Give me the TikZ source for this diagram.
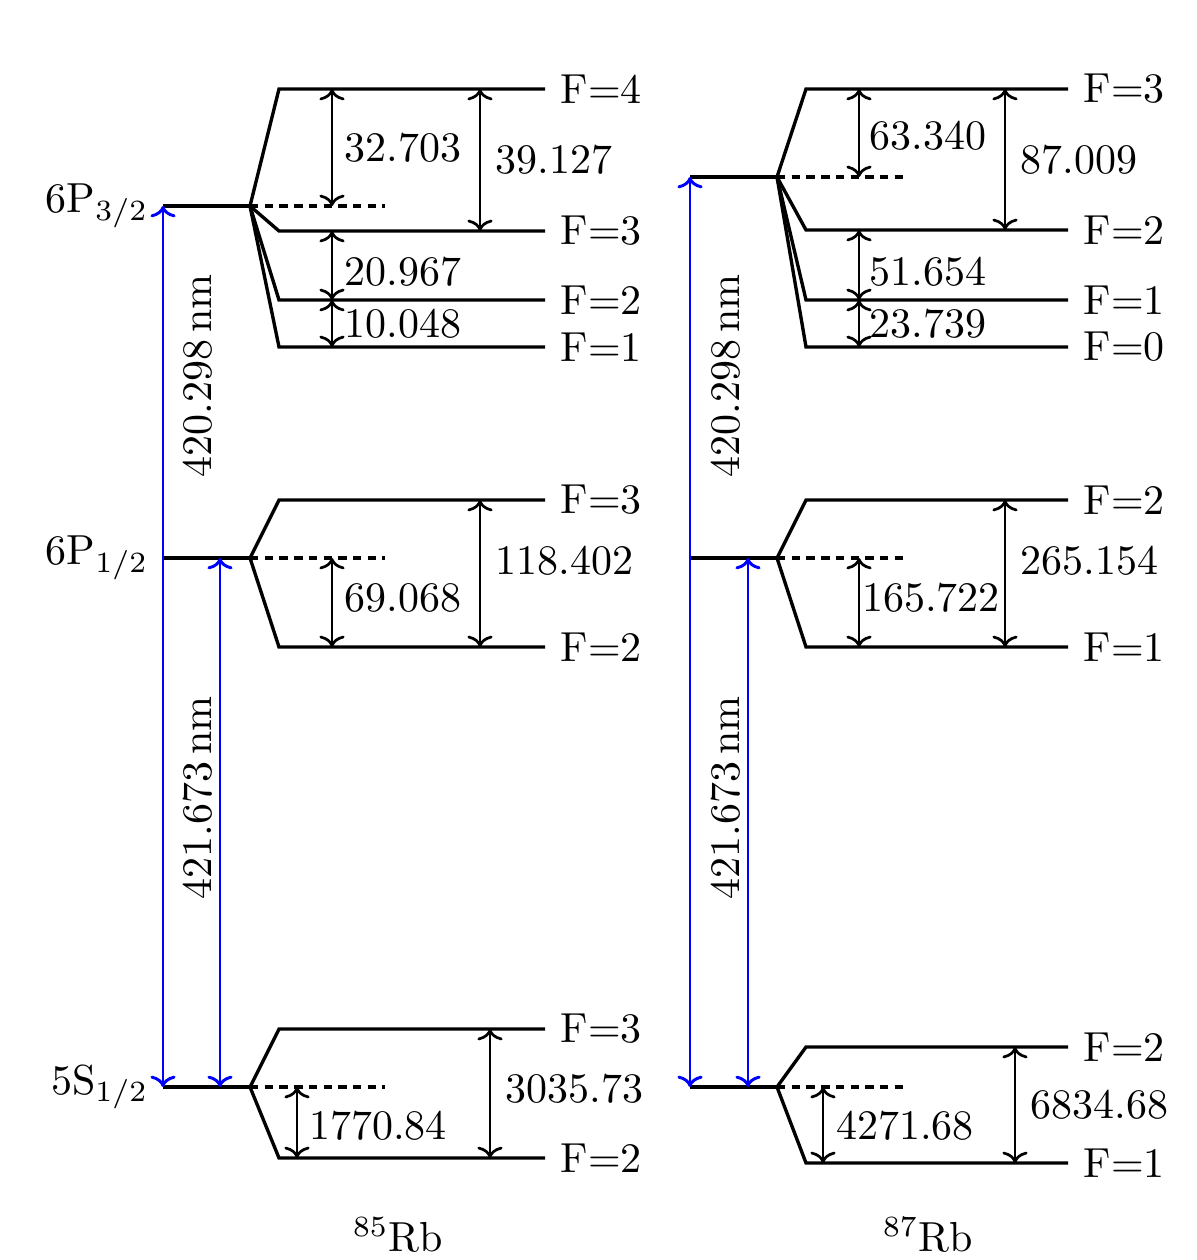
\documentclass[tikz,border=0pt]{standalone}
\usepackage{amsmath,amsfonts}
\usetikzlibrary{arrows.meta}

\tikzset{
	lvl/.style={thick},
	hfs/.style={line width=0.65pt,{To[length=2.7pt,width=6pt]}-{To[length=2.7pt,width=6pt]}},
	laser/.style={line width=0.7pt,blue,{To[length=2.7pt,width=6pt]}-{To[length=2.7pt,width=6pt]}},
	ctr/.style={thick,dash pattern=on 2pt off 1.5pt},
}

\begin{document}
\begin{tikzpicture}[x=0.2381pt,y=-0.2381pt]
\useasboundingbox (0,0) rectangle (1196,1260);
%
% 85Rb
%
	\coordinate (aS) at (163,1087);
	\coordinate (aP1) at (163,558);
	\coordinate (aP3) at (163,206);
	\node[left] (aSname) at (aS) {5S$_{1/2}$};
	\node[left] (aP1name) at (aP1) {6P$_{1/2}$};
	\node[left] (aP3name) at (aP3) {6P$_{3/2}$};
	\draw[lvl] (aS) -- (250,1087) coordinate (aSk);
	\draw[lvl] (aP1) -- (250,558) coordinate (aP1k);
	\draw[lvl] (aP3) -- (250,206) coordinate (aP3k);
	\draw[ctr] (aSk) -- (385,1087);
	\draw[ctr] (aP1k) -- (385,558);
	\draw[ctr] (aP3k) -- (385,206);
	% hyperfine levels
	\draw[lvl] (aP3k) -- (279,89) -- (545,89) node[right] (aP3F4) {F=4};
	\draw[lvl] (aP3k) -- (279,231) -- (545,231) node[right] (aP3F3) {F=3};
	\draw[lvl] (aP3k) -- (279,300) -- (545,300) node[right] (aP3F2) {F=2};
	\draw[lvl] (aP3k) -- (279,347) -- (545,347) node[right] (aP3F1) {F=1};
	\draw[lvl] (aP1k) -- (279,500) -- (545,500) node[right] (aP1F3) {F=3};
	\draw[lvl] (aP1k) -- (279,647) -- (545,647) node[right] (aP1F2) {F=2};
	\draw[lvl] (aSk) -- (279,1029) -- (545,1029) node[right] (aSF3) {F=3};
	\draw[lvl] (aSk) -- (279,1158) -- (545,1158) node[right] (aSF2) {F=2};
	% splittings
	\coordinate (ain) at (332,0);
	\coordinate (aout) at (480,0);
	\coordinate (asin) at (297,0);
	\coordinate (asout) at (490,0);
	\draw[hfs] (ain |- aP3F4) -- (ain |- aP3k);
	\draw[hfs] (ain |- aP3F3) -- (ain |- aP3F2);
	\draw[hfs] (ain |- aP3F2) -- (ain |- aP3F1);
	\draw[hfs] (aout |- aP3F4) -- node[right] (aP3d) {39.127} (aout |- aP3F3);
	\draw[hfs] (ain |- aP1k) -- (ain |- aP1F2);
	\draw[hfs] (aout |- aP1F3) -- node[right,pos=0.41] (aP1d) {118.402} (aout |- aP1F2);
	\draw[hfs] (asin |- aSk) -- (asin |- aSF2);
	\draw[hfs] (asout |- aSF3) -- node[right,pos=0.465] (aSd) {3035.73} (asout |- aSF2);
	\node (aP3d1) at (403,148) {32.703};
	\node (aP3d2) at (403,272) {20.967};
	\node (aP3d3) at (403,324) {10.048};
	\node (aP1d1) at (403,598) {69.068};
	\node (aSd1) at (378,1126) {1770.84};
	% transitions
	\coordinate (ablue) at (220,0);
	\draw[laser] (aS) -- (aP3);
	\draw[laser] (ablue |- aS) -- (ablue |- aP1);
	\node[rotate=90] (aL3) at (198,376) {420.298\,nm};
	\node[rotate=90] (aL1) at (198,798) {421.673\,nm};
	\node (aRb) at (398,1235) {$^{85}$Rb};
%
% 87Rb
%
	\coordinate (bS) at (690,1087);
	\coordinate (bP1) at (690,558);
	\coordinate (bP3) at (690,177);
	\draw[lvl] (bS) -- (777,1087) coordinate (bSk);
	\draw[lvl] (bP1) -- (777,558) coordinate (bP1k);
	\draw[lvl] (bP3) -- (777,177) coordinate (bP3k);
	\draw[ctr] (bSk) -- (909,1087);
	\draw[ctr] (bP1k) -- (909,558);
	\draw[ctr] (bP3k) -- (909,177);
	% hyperfine levels
	\draw[lvl] (bP3k) -- (806,89) -- (1068,89) node[right] (bP3F3) {F=3};
	\draw[lvl] (bP3k) -- (806,230) -- (1068,230) node[right] (bP3F2) {F=2};
	\draw[lvl] (bP3k) -- (806,300) -- (1068,300) node[right] (bP3F1) {F=1};
	\draw[lvl] (bP3k) -- (806,347) -- (1068,347) node[right] (bP3F0) {F=0};
	\draw[lvl] (bP1k) -- (806,500) -- (1068,500) node[right] (bP1F2) {F=2};
	\draw[lvl] (bP1k) -- (806,647) -- (1068,647) node[right] (bP1F1) {F=1};
	\draw[lvl] (bSk) -- (806,1047) -- (1068,1047) node[right] (bSF2) {F=2};
	\draw[lvl] (bSk) -- (806,1163) -- (1068,1163) node[right] (bSF1) {F=1};
	% splittings
	\coordinate (bin) at (859,0);
	\coordinate (bout) at (1005,0);
	\coordinate (bsin) at (823,0);
	\coordinate (bsout) at (1015,0);
	\draw[hfs] (bin |- bP3F3) -- (bin |- bP3k);
	\draw[hfs] (bin |- bP3F2) -- (bin |- bP3F1);
	\draw[hfs] (bin |- bP3F1) -- (bin |- bP3F0);
	\draw[hfs] (bout |- bP3F3) -- node[right] (bP3d) {87.009} (bout |- bP3F2);
	\draw[hfs] (bin |- bP1k) -- (bin |- bP1F1);
	\draw[hfs] (bout |- bP1F2) -- node[right,pos=0.41] (bP1d) {265.154} (bout |- bP1F1);
	\draw[hfs] (bsin |- bSk) -- (bsin |- bSF1);
	\draw[hfs] (bsout |- bSF2) -- node[right] (bSd) {6834.68} (bsout |- bSF1);
	\node (bP3d1) at (928,136) {63.340};
	\node (bP3d2) at (928,272) {51.654};
	\node (bP3d3) at (928,324) {23.739};
	\node (bP1d1) at (931,598) {165.722};
	\node (bSd1) at (905,1126) {4271.68};
	% transitions
	\coordinate (bblue) at (748,0);
	\draw[laser] (bS) -- (bP3);
	\draw[laser] (bblue |- bS) -- (bblue |- bP1);
	\node[rotate=90] (bL3) at (726,376) {420.298\,nm};
	\node[rotate=90] (bL1) at (726,798) {421.673\,nm};
	\node (bRb) at (928,1235) {$^{87}$Rb};
%
\end{tikzpicture}
\end{document}
